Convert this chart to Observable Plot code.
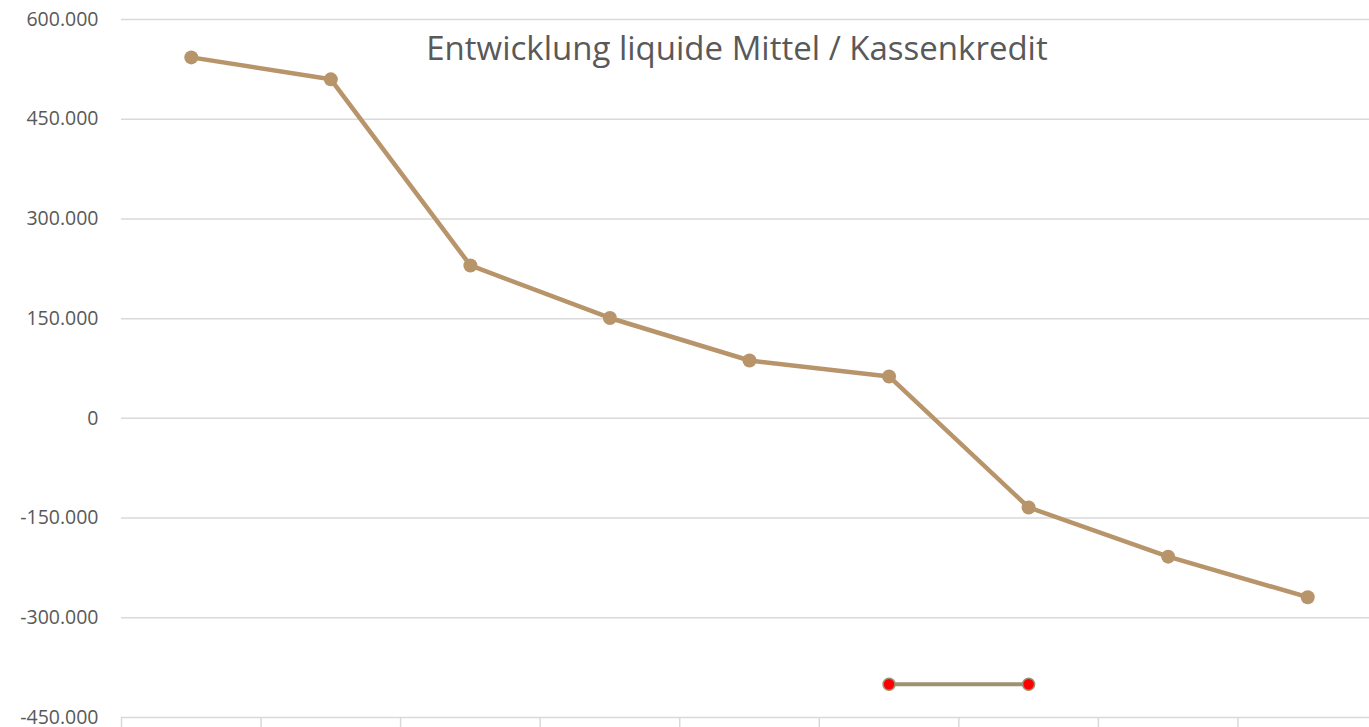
<!DOCTYPE html>
<html>
<head>
<meta charset="utf-8">
<script src="https://cdn.jsdelivr.net/npm/d3@7"></script>
<script src="https://cdn.jsdelivr.net/npm/@observablehq/plot@0.6"></script>
<style>
  html, body { margin: 0; padding: 0; background: #fff; }
  #wrap { position: relative; width: 1369px; height: 727px; overflow: hidden; }
  #title { position: absolute; top: 26px; left: 0; width: 1474px; text-align: center; line-height: 44px;
           font-family: "Open Sans", sans-serif; font-size: 33px; color: #595959; white-space: nowrap; }
</style>
</head>
<body>
<div id="wrap"><div id="title">Entwicklung liquide Mittel / Kassenkredit</div></div>
<script>
// Category positions (x labels not visible in the reference)
const categories = [1, 2, 3, 4, 5, 6, 7, 8, 9];
// Main series: liquide Mittel / Kassenkredit
const mainValues = [543000, 510000, 230000, 151000, 87000, 63000, -134000, -208000, -269000];
// Second series (red markers) at categories 6 and 7
const secondCategories = [6, 7];
const secondValues = [-400000, -400000];
// Y tick values
const yTicks = [-450000, -300000, -150000, 0, 150000, 300000, 450000, 600000];
const xTicks = [0.5, 1.5, 2.5, 3.5, 4.5, 5.5, 6.5, 7.5, 8.5, 9.5];

const mainData = categories.map((c, i) => ({x: c, y: mainValues[i]}));
const secondData = secondCategories.map((c, i) => ({x: c, y: secondValues[i]}));

const fmt = d => (d < 0 ? "-" : "") + d3.format(",")(Math.abs(d)).replace(/,/g, ".");

const chart = Plot.plot({
  width: 1369,
  height: 727,
  marginTop: 19,
  marginBottom: 10,
  marginLeft: 121,
  marginRight: 0,
  style: {fontFamily: "'Open Sans', sans-serif", fontSize: "20px", color: "#595959", background: "white"},
  x: {type: "linear", domain: [0.5, 9.5], range: [121, 1377], axis: null, label: null},
  y: {domain: [-450000, 600000], axis: null, label: null},
  marks: [
    Plot.gridY(yTicks, {stroke: "#d9d9d9", strokeOpacity: 1, strokeWidth: 1.5}),
    Plot.axisX(xTicks, {tickSize: 12, tickFormat: () => "", stroke: "#d9d9d9", strokeOpacity: 1, strokeWidth: 1.5, anchor: "bottom", label: null}),
    Plot.axisY(yTicks, {tickSize: 0, tickPadding: 23, tickFormat: fmt, fill: "#595959", fontSize: 19.5, anchor: "left", label: null}),
    Plot.line(mainData, {x: "x", y: "y", stroke: "#B8946A", strokeWidth: 4.5}),
    Plot.dot(mainData, {x: "x", y: "y", r: 7, fill: "#B8946A", stroke: "none"}),
    Plot.line(secondData, {x: "x", y: "y", stroke: "#9C9170", strokeWidth: 4}),
    Plot.dot(secondData, {x: "x", y: "y", r: 6, fill: "#FF0000", stroke: "#9C9170", strokeWidth: 1.5})
  ]
});
document.getElementById("wrap").prepend(chart);
chart.style.position = "absolute";
chart.style.left = "0";
chart.style.top = "0";
chart.style.overflow = "visible";
</script>
</body>
</html>
